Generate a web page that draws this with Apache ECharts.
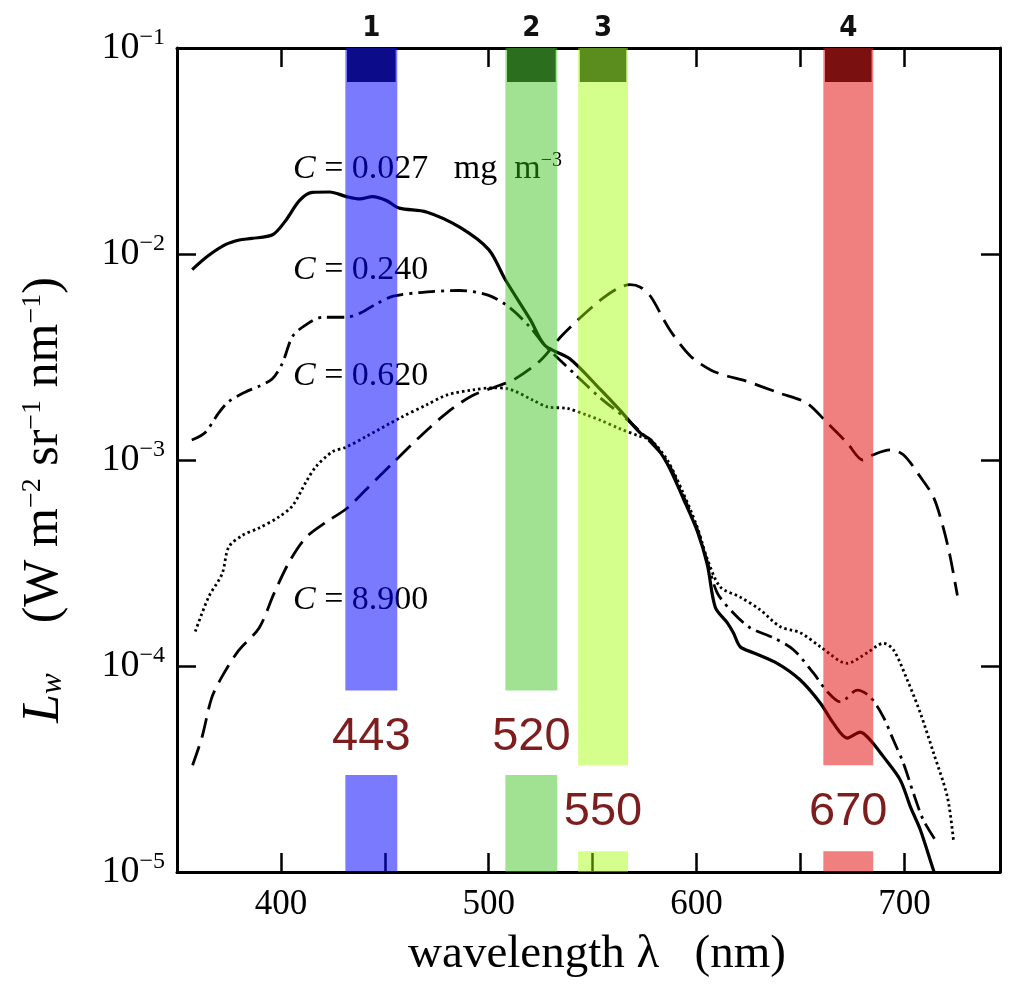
<!DOCTYPE html>
<html><head><meta charset="utf-8">
<script src="https://cdn.jsdelivr.net/npm/echarts@6/dist/echarts.min.js"></script>
<style>html,body{margin:0;padding:0;background:#fff}#c{width:1009px;height:991px}</style>
</head><body><div id="c"></div>
<script>
// ---- data ----
const xTickLabels = [400, 500, 600, 700];
const yTickExponents = [-1, -2, -3, -4, -5];
const curveC0027 = [
  [357.3,8.4e-3],[365,9.8e-3],[373.3,1.11e-2],[380,1.17e-2],[386,1.19e-2],[396,1.24e-2],
  [402,1.44e-2],[409,1.82e-2],[415,1.99e-2],[423.5,2.0e-2],[431.5,1.9e-2],[438,1.85e-2],
  [444,1.9e-2],[450.7,1.82e-2],[457,1.67e-2],[470,1.6e-2],[486,1.35e-2],[500,1.05e-2],
  [508,7.5e-3],[520,4.8e-3],[527,3.6e-3],[539,3.1e-3],[553.7,2.2e-3],[563,1.75e-3],
  [573,1.35e-3],[578,1.25e-3],[585.9,9.6e-4],[593.6,6.5e-4],[600.4,4.5e-4],[605.2,3.1e-4],
  [609,1.93e-4],[614.8,1.62e-4],[617.7,1.45e-4],[621,1.24e-4],[627.3,1.16e-4],[638.8,1.03e-4],
  [649.9,8.55e-5],[659.6,6.6e-5],[665.8,5.28e-5],[672.5,4.47e-5],[678.8,4.78e-5],[683.6,4.37e-5],
  [689.9,3.63e-5],[698,2.8e-5],[702.9,2.07e-5],[707.7,1.6e-5],[714,1.02e-5],[716,9e-6]
];
const curveC0240 = [
  [357.1,1.25e-3],[363.6,1.36e-3],[370,1.69e-3],[374.9,1.92e-3],[383,2.14e-3],[389.5,2.28e-3],
  [395.9,2.48e-3],[400.7,2.95e-3],[405.6,3.98e-3],[412,4.53e-3],[420,4.93e-3],[431,4.93e-3],
  [437.9,5.15e-3],[446,5.73e-3],[454,6.24e-3],[467,6.5e-3],[486,6.65e-3],[500,6.3e-3],
  [510,5.5e-3],[520,4.4e-3],[527,3.6e-3],[541.6,2.6e-3],[553.7,2.0e-3],[565.7,1.6e-3],
  [575.3,1.3e-3],[585.9,9.8e-4],[593.6,6.7e-4],[600.4,4.6e-4],[605.2,3.2e-4],[610,2.26e-4],
  [617.7,1.81e-4],[625.9,1.53e-4],[637,1.37e-4],[646.6,1.2e-4],[656.2,9.25e-5],[663,7.48e-5],
  [669.2,6.69e-5],[677.4,7.64e-5],[683.6,7.07e-5],[689.9,5.65e-5],[694.7,4.37e-5],[699.5,3.38e-5],
  [704.3,2.42e-5],[709.1,1.79e-5],[715.9,1.38e-5]
];
const curveC0620 = [
  [358.8,1.47e-4],[365.2,2.16e-4],[371.7,2.8e-4],[374.9,3.78e-4],[381.4,4.3e-4],[389.5,4.68e-4],
  [399.1,5.3e-4],[405.6,6.0e-4],[412,7.8e-4],[416.9,9.3e-4],[425,1.1e-3],[431,1.15e-3],
  [441,1.3e-3],[457.3,1.6e-3],[470,1.85e-3],[480,2.07e-3],[492.5,2.19e-3],[502,2.24e-3],
  [509,2.22e-3],[521.4,1.95e-3],[528.2,1.81e-3],[537.8,1.78e-3],[547.4,1.65e-3],[553.7,1.56e-3],
  [563,1.42e-3],[573,1.3e-3],[578,1.25e-3],[585.9,1.0e-3],[593.6,6.9e-4],[600.4,4.7e-4],
  [605.2,3.3e-4],[611.4,2.42e-4],[621,2.16e-4],[630.7,1.87e-4],[640.3,1.55e-4],[649.9,1.45e-4],
  [659.6,1.24e-4],[672.5,1.03e-4],[682.1,1.16e-4],[689.9,1.29e-4],[694.7,1.2e-4],[701.4,8.55e-5],
  [707.7,5.9e-5],[714,3.79e-5],[720.7,2.31e-5],[723.6,1.43e-5]
];
const curveC8900 = [
  [357.5,3.3e-5],[362,4.5e-5],[366.7,7.0e-5],[372,9.0e-5],[379.7,1.19e-4],[389.5,1.53e-4],
  [396.7,2.25e-4],[404,3.2e-4],[412,4.2e-4],[421.8,5.0e-4],[431.5,5.8e-4],[441,7.2e-4],
  [454,9.7e-4],[467,1.3e-3],[480,1.7e-3],[492,2.05e-3],[505,2.3e-3],[512,2.45e-3],
  [525,3.05e-3],[535,4.0e-3],[544,4.9e-3],[554,6.0e-3],[562,6.8e-3],[568,7.1e-3],
  [573,6.9e-3],[578,6.2e-3],[587,4.3e-3],[597,3.2e-3],[607,2.73e-3],[615,2.55e-3],
  [622.5,2.44e-3],[640,2.11e-3],[653,1.89e-3],[663,1.51e-3],[672.5,1.21e-3],[680,1.0e-3],
  [685,1.06e-3],[693,1.12e-3],[699.5,1.06e-3],[707.6,8.3e-4],[714,6.6e-4],[718.7,4.7e-4],
  [722,3.4e-4],[725.5,2.2e-4]
];
const bandLabels = ['443', '520', '550', '670'];
const bandNumbers = ['1', '2', '3', '4'];
const bandRanges = [[431, 456], [508, 533], [543, 567], [661, 685]];
const bandGapTop = [7.6e-5, 7.6e-5, 3.3e-5, 3.3e-5];
const bandGapBottom = [2.96e-5, 2.96e-5, 1.26e-5, 1.26e-5];
const capBottom = 6.84e-2;

// ---- styles ----
const serif = '"Liberation Serif", "DejaVu Serif", serif';
const bandFill = ['rgba(0,0,255,0.52)', 'rgba(44,188,13,0.45)', 'rgba(160,255,0,0.45)', 'rgba(225,0,0,0.5)'];
const capFill = ['#0c0c8a', '#2b6e1e', '#5a8c1e', '#7a1010'];
const labelColor = '#7d1d1d';

const bandAreas = [];
bandRanges.forEach((r, i) => {
  bandAreas.push([{xAxis: r[0], yAxis: 1e-1, itemStyle: {color: bandFill[i]}}, {xAxis: r[1], yAxis: bandGapTop[i]}]);
  bandAreas.push([{xAxis: r[0], yAxis: bandGapBottom[i], itemStyle: {color: bandFill[i]}}, {xAxis: r[1], yAxis: 1e-5}]);
  bandAreas.push([{xAxis: r[0], yAxis: bandGapTop[i], itemStyle: {color: 'rgba(0,0,0,0)'},
    label: {show: true, position: 'inside', offset: [0, 4], formatter: bandLabels[i], color: labelColor, fontSize: 47,
      fontFamily: '"Liberation Sans", Arial, sans-serif'}}, {xAxis: r[1], yAxis: bandGapBottom[i]}]);
  bandAreas.push([{xAxis: r[0] + 0.8, yAxis: 1e-1, itemStyle: {color: capFill[i], borderRadius: 3},
    label: {show: true, position: 'top', distance: 5, formatter: bandNumbers[i], color: '#111', fontSize: 29,
      fontWeight: 'bold', fontFamily: '"DejaVu Sans Condensed", "DejaVu Sans", sans-serif'}},
    {xAxis: r[1] - 0.8, yAxis: capBottom}]);
});

const axisCommon = {
  axisLine: {show: true, lineStyle: {color: '#000', width: 3}},
  axisTick: {show: true, inside: true, length: 19, lineStyle: {color: '#000', width: 2.5}},
  splitLine: {show: false}
};
function xAxisCfg(pos, labels) {
  return Object.assign({
    type: 'value', position: pos, min: 350, max: 746, interval: 50,
    axisLabel: {show: labels, margin: 15, fontSize: 35, fontFamily: serif, color: '#000',
      formatter: v => xTickLabels.includes(v) ? String(v) : ''}
  }, axisCommon);
}
function yAxisCfg(pos, labels) {
  return Object.assign({
    type: 'log', logBase: 10, position: pos, min: 1e-5, max: 1e-1,
    axisLabel: {show: labels, margin: 12, color: '#000',
      formatter: v => {
        const e = Math.round(Math.log10(v));
        return yTickExponents.includes(e) ? '{b|10}{s|\u2212' + (-e) + '}' : '';
      },
      rich: {b: {fontSize: 38, fontFamily: serif, color: '#000'},
             s: {fontSize: 24, fontFamily: serif, color: '#000', padding: [0, 0, 20, 0]}}}
  }, axisCommon);
}

function curve(name, data, type, width) {
  return {name, type: 'line', data, smooth: 0.3, showSymbol: false, clip: true, z: 2,
    lineStyle: {color: '#000', width, type, cap: 'butt'}};
}

const cRich = {i: {fontStyle: 'italic', fontSize: 34, fontFamily: serif},
               s: {fontSize: 20, fontFamily: serif, padding: [0, 0, 16, 0]}};
const option = {
  animation: false,
  backgroundColor: '#fff',
  grid: {left: 177, right: 9, top: 48, bottom: 119},
  xAxis: [xAxisCfg('bottom', true), xAxisCfg('top', false)],
  yAxis: [yAxisCfg('left', true), yAxisCfg('right', false)],
  series: [
    curve('C = 0.027', curveC0027, 'solid', 3.2),
    curve('C = 0.240', curveC0240, [17, 6, 3, 6], 2.8),
    curve('C = 0.620', curveC0620, [2.5, 3], 2.8),
    curve('C = 8.900', curveC8900, [20, 9], 2.8),
    {type: 'line', data: [], z: 5, markArea: {silent: true, z: 5, data: bandAreas}}
  ],
  graphic: [
    {type: 'text', z: 0, left: 293, top: 151, style: {text: '{i|C} = 0.027\u00a0\u00a0\u00a0mg\u00a0\u00a0m{s|\u22123}',
      rich: cRich, font: '34px ' + serif, fill: '#000'}},
    {type: 'text', z: 0, left: 293, top: 253, style: {text: '{i|C} = 0.240', rich: cRich, font: '34px ' + serif, fill: '#000'}},
    {type: 'text', z: 0, left: 293, top: 359, style: {text: '{i|C} = 0.620', rich: cRich, font: '34px ' + serif, fill: '#000'}},
    {type: 'text', z: 0, left: 293, top: 583, style: {text: '{i|C} = 8.900', rich: cRich, font: '34px ' + serif, fill: '#000'}},
    {type: 'text', x: 597, y: 955, style: {text: 'wavelength \u03bb\u00a0\u00a0\u00a0(nm)', font: '47px ' + serif, fill: '#000',
      align: 'center', verticalAlign: 'middle'}},
    {type: 'text', x: 44, y: 500, rotation: Math.PI / 2, style: {
      text: '{i|L}{sub|w}\u00a0\u00a0\u00a0\u00a0(W\u00a0m{sup|\u22122}\u00a0sr{sup|\u22121}\u00a0nm{sup|\u22121})',
      font: '50px ' + serif, fill: '#000', align: 'center', verticalAlign: 'middle',
      rich: {i: {fontStyle: 'italic', fontSize: 52, fontFamily: serif},
             sub: {fontStyle: 'italic', fontSize: 31, fontFamily: serif, padding: [18, 0, 0, 0]},
             sup: {fontSize: 28, fontFamily: serif, padding: [0, 0, 22, 0]}}}}
  ]
};
const chart = echarts.init(document.getElementById('c'), null, {renderer: 'canvas'});
chart.setOption(option);
</script></body></html>
